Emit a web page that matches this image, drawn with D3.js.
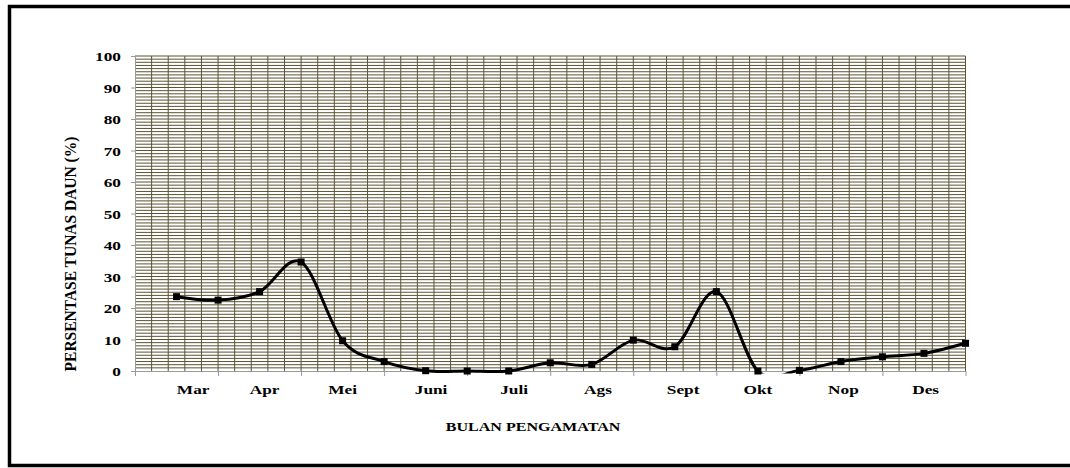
<!DOCTYPE html>
<html>
<head>
<meta charset="utf-8">
<script src="https://cdn.jsdelivr.net/npm/d3@7"></script>
<style>
  html, body { margin: 0; padding: 0; background: #fff; }
  svg { display: block; }
  text { font-family: "Liberation Serif", "Times New Roman", serif; font-weight: bold; fill: #000; }
</style>
</head>
<body>
<svg id="chart" width="1070" height="468"></svg>
<script>
// Observation months shown under the x axis, and where each sits on the observation scale
const months = ["Mar", "Apr", "Mei", "Juni", "Juli", "Ags", "Sept", "Okt", "Nop", "Des"];
const monthAt = [1.4, 3.12, 5.0, 7.13, 9.13, 11.15, 13.2, 15.0, 17.06, 19.04];

// Observation number (1..20) and leaf-bud percentage at each observation
const observation = d3.range(1, 21);
const persentase = [23.6, 22.5, 25.2, 34.6, 9.6, 3.0, 0.1, 0.0, 0.0, 2.6,
                    2.1, 9.8, 7.7, 25.2, 0.0, 0.2, 3.0, 4.5, 5.6, 8.8];

// Y axis tick values
const yTicks = [0, 10, 20, 30, 40, 50, 60, 70, 80, 90, 100];

const yTitle = "PERSENTASE TUNAS DAUN (%)";
const xTitle = "BULAN PENGAMATAN";

const svg = d3.select("#chart");
const plot = { left: 135, right: 965.5, top: 56, bottom: 371 };

const x = d3.scaleLinear().domain([0, 20]).range([plot.left, plot.right]);
const y = d3.scaleLinear().domain([0, 100]).range([plot.bottom, plot.top]);

// Outer frame (runs off the right edge)
svg.append("path")
  .attr("d", `M1100,6.5 H9.5 V465.5 H1100`)
  .attr("fill", "none")
  .attr("stroke", "#000")
  .attr("stroke-width", 3.5);

// Minor grid: one horizontal line per percent, vertical lines every 0.4 observation
const grid = svg.append("g").attr("stroke", "#5a5334").attr("stroke-width", 1);
grid.selectAll("line.h")
  .data(d3.range(1, 101))
  .join("line")
  .attr("class", "h")
  .attr("x1", plot.left).attr("x2", plot.right)
  .attr("y1", d => y(d)).attr("y2", d => y(d));
grid.selectAll("line.v")
  .data(d3.range(1, 51).map(k => k * 0.4))
  .join("line")
  .attr("class", "v")
  .attr("x1", d => x(d)).attr("x2", d => x(d))
  .attr("y1", plot.top).attr("y2", plot.bottom);

// Y axis
const yAxis = svg.append("g")
  .attr("transform", `translate(${plot.left},0)`)
  .call(d3.axisLeft(y).tickValues(yTicks).tickSize(4).tickSizeOuter(0));
yAxis.select(".domain").attr("stroke", "#9a9a9a");
yAxis.selectAll(".tick line").attr("stroke", "#9a9a9a");
yAxis.selectAll(".tick text")
  .attr("x", null)
  .attr("dy", "0.36em")
  .attr("font-size", 13.5)
  .attr("text-anchor", "end")
  .attr("transform", "translate(-14,0) scale(1.28,1)");

// X axis: tick marks every two observations
const xAxis = svg.append("g")
  .attr("transform", `translate(0,${plot.bottom})`)
  .call(d3.axisBottom(x).tickValues(d3.range(0, 21, 2)).tickSize(5).tickSizeOuter(0).tickFormat(""));
xAxis.select(".domain").attr("stroke", "#9a9a9a");
xAxis.selectAll(".tick line").attr("stroke", "#9a9a9a");

// Month labels
svg.append("g").selectAll("text")
  .data(months)
  .join("text")
  .attr("font-size", 13.5)
  .attr("text-anchor", "middle")
  .attr("transform", (d, i) => `translate(${x(monthAt[i])},394) scale(1.28,1)`)
  .text(d => d);

// Smoothed series line, clipped to the plot area
svg.append("clipPath").attr("id", "plotClip")
  .append("rect")
  .attr("x", plot.left).attr("y", plot.top - 10)
  .attr("width", plot.right - plot.left + 10)
  .attr("height", plot.bottom - plot.top + 12.5);

const line = d3.line()
  .x((d, i) => x(observation[i]))
  .y(d => y(d))
  .curve(d3.curveCatmullRom.alpha(0));

svg.append("path")
  .datum(persentase)
  .attr("clip-path", "url(#plotClip)")
  .attr("fill", "none")
  .attr("stroke", "#000")
  .attr("stroke-width", 3)
  .attr("stroke-linejoin", "round")
  .attr("d", line);

// Square markers
const m = 7;
svg.append("g").selectAll("rect")
  .data(persentase)
  .join("rect")
  .attr("x", (d, i) => x(observation[i]) - m / 2)
  .attr("y", d => y(d) - m / 2)
  .attr("width", m).attr("height", m)
  .attr("fill", "#000");

// Axis titles
svg.append("text")
  .attr("font-size", 15.5)
  .attr("text-anchor", "middle")
  .attr("transform", "translate(76,254) scale(1.14,1) rotate(-90)")
  .text(yTitle);

svg.append("text")
  .attr("font-size", 13.5)
  .attr("text-anchor", "middle")
  .attr("transform", "translate(533,431) scale(1.19,1)")
  .text(xTitle);
</script>
</body>
</html>
